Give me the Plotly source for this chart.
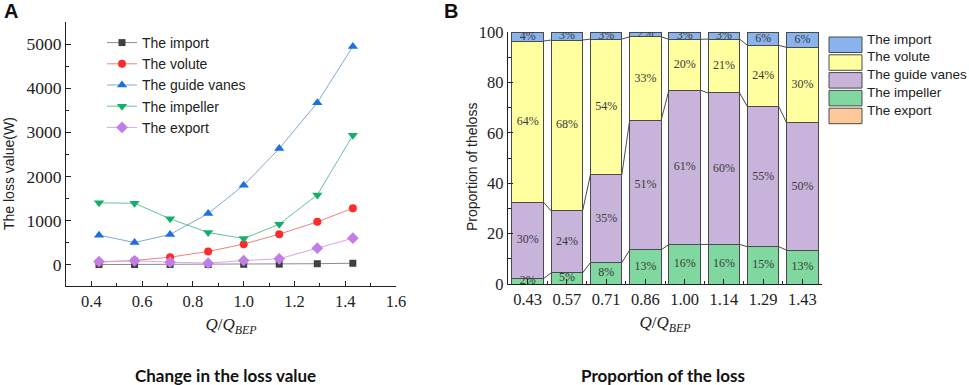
import plotly.graph_objects as go

W, H = 969, 385

# ---------------- data ----------------
q = [0.43, 0.57, 0.71, 0.86, 1.00, 1.14, 1.29, 1.43]
q_labels = ["0.43", "0.57", "0.71", "0.86", "1.00", "1.14", "1.29", "1.43"]

loss_import = [5, 6, 7, 8, 12, 15, 25, 35]
loss_volute = [60, 98, 173, 302, 468, 694, 973, 1282]
loss_guide = [671, 505, 686, 1161, 1802, 2632, 3673, 4947]
loss_impeller = [1403, 1395, 1041, 731, 596, 920, 1584, 2934]
loss_export = [75, 90, 60, 38, 98, 136, 377, 603]

share_export = [0, 0, 0, 0, 0, 0, 0, 0]
share_impeller = [2.1, 4.4, 8.5, 13.5, 15.7, 15.7, 14.8, 13.4]
share_guide = [30.4, 24.6, 34.9, 51.4, 61.2, 60.1, 55.6, 50.5]
share_volute = [63.9, 67.8, 53.8, 33.2, 20.2, 21.4, 24.3, 30.0]
share_import = [3.6, 3.2, 2.8, 1.9, 2.9, 2.8, 5.3, 6.1]

label_impeller = ["2%", "5%", "8%", "13%", "16%", "16%", "15%", "13%"]
label_guide = ["30%", "24%", "35%", "51%", "61%", "60%", "55%", "50%"]
label_volute = ["64%", "68%", "54%", "33%", "20%", "21%", "24%", "30%"]
label_import = ["4%", "3%", "3%", "2%", "3%", "3%", "6%", "6%"]

series_names = ["The import", "The volute", "The guide vanes", "The impeller", "The export"]

# ---------------- styles ----------------
SERIF = "Liberation Serif"
SANS = "Liberation Sans"
line_styles = [
    dict(line="#8c8c8c", marker="#404040", symbol="square", size=7),
    dict(line="#f08080", marker="#ff2a2a", symbol="circle", size=8),
    dict(line="#7fa9d8", marker="#1e6fe0", symbol="triangle-up", size=9),
    dict(line="#66c29c", marker="#14b06a", symbol="triangle-down", size=9),
    dict(line="#d4a8ea", marker="#c07ee6", symbol="diamond", size=9),
]
bar_colors = {
    "The import": "#8ab4ee",
    "The volute": "#ffffa0",
    "The guide vanes": "#c8b4da",
    "The impeller": "#80d8a0",
    "The export": "#ffc89a",
}
OUTLINE = "#4a4a4a"


def px(x):
    return x / W


def py(y):
    return 1 - y / H


fig = go.Figure()

# ---------------- panel A ----------------
loss_series = [loss_import, loss_volute, loss_guide, loss_impeller, loss_export]
for i, (name, vals, st) in enumerate(zip(series_names, loss_series, line_styles)):
    fig.add_trace(go.Scatter(
        x=q, y=vals, name=name, mode="lines+markers",
        line=dict(color=st["line"], width=1),
        marker=dict(color=st["marker"], symbol=st["symbol"], size=st["size"]),
        xaxis="x", yaxis="y", legendgroup=f"g{i}", legend="legend",
    ))

# ---------------- panel B ----------------
idx = list(range(len(q)))
stack = [
    ("The export", share_export),
    ("The impeller", share_impeller),
    ("The guide vanes", share_guide),
    ("The volute", share_volute),
    ("The import", share_import),
]
for name, vals in stack:
    fig.add_trace(go.Bar(
        x=idx, y=vals, name=name, width=0.8,
        marker=dict(color=bar_colors[name], line=dict(color=OUTLINE, width=1)),
        xaxis="x2", yaxis="y2", showlegend=False, hoverinfo="skip",
    ))

# connecting lines between bars at stack boundaries
base = [0.0] * len(q)
tops = []
for name, vals in stack[1:-1]:
    base = [b + v for b, v in zip(base, vals)]
    tops.append(list(base))
cx, cy = [], []
for t in tops:
    for i in range(len(q) - 1):
        cx += [idx[i] + 0.4, idx[i + 1] - 0.4, None]
        cy += [t[i], t[i + 1], None]
fig.add_trace(go.Scatter(x=cx, y=cy, mode="lines", line=dict(color=OUTLINE, width=1),
                         xaxis="x2", yaxis="y2", showlegend=False, hoverinfo="skip"))

# percentage labels at segment centres
labels_by_series = {
    "The impeller": label_impeller,
    "The guide vanes": label_guide,
    "The volute": label_volute,
    "The import": label_import,
}
base = [0.0] * len(q)
for name, vals in stack:
    mids = [b + v / 2 for b, v in zip(base, vals)]
    base = [b + v for b, v in zip(base, vals)]
    if name in labels_by_series:
        fig.add_trace(go.Scatter(
            x=idx, y=mids, mode="text", text=labels_by_series[name],
            textfont=dict(family=SERIF, size=12, color="#3a3a3a"),
            xaxis="x2", yaxis="y2", showlegend=False, hoverinfo="skip",
        ))

# ---------------- axes ----------------
axis_common = dict(
    showgrid=False, zeroline=False, showline=True, linecolor="#222", linewidth=1.2,
    ticks="inside", tickcolor="#222", ticklen=5, tickwidth=1,
    mirror=False, automargin=False,
)
xtitle = dict(text="<i>Q</i>/<i>Q</i><sub><i>BEP</i></sub>",
              font=dict(family=SERIF, size=17, color="#222"), standoff=8)

fig.update_layout(
    width=W, height=H,
    margin=dict(l=0, r=0, t=0, b=0, pad=0, autoexpand=False),
    paper_bgcolor="white", plot_bgcolor="white",
    barmode="stack",
    xaxis=dict(
        domain=[px(66), px(396)], range=[0.3, 1.6], dtick=0.2, tick0=0.4,
        tickformat=".1f", anchor="y",
        minor=dict(dtick=0.1, tick0=0.3, ticks="inside", ticklen=3, tickcolor="#222"),
        tickfont=dict(family=SERIF, size=16.5, color="#222"),
        title=xtitle, **axis_common,
    ),
    yaxis=dict(
        domain=[py(286), py(22)], range=[-480, 5500], dtick=1000, tick0=0,
        anchor="x",
        minor=dict(dtick=500, tick0=0, ticks="inside", ticklen=3, tickcolor="#222"),
        tickfont=dict(family=SERIF, size=17.5, color="#222"),
        **axis_common,
    ),
    xaxis2=dict(
        domain=[px(508), px(822)], range=[-0.5, 7.5], anchor="y2",
        tickmode="array", tickvals=idx, ticktext=q_labels,
        minor=dict(tickmode="array", tickvals=[i + 0.5 for i in idx[:-1]],
                   ticks="inside", ticklen=3, tickcolor="#222"),
        tickfont=dict(family=SERIF, size=16.5, color="#222"),
        title=xtitle, **axis_common,
    ),
    yaxis2=dict(
        domain=[py(284), py(32)], range=[0, 100], dtick=20, anchor="x2",
        minor=dict(dtick=10, ticks="inside", ticklen=3, tickcolor="#222"),
        tickfont=dict(family=SERIF, size=16.5, color="#222"),
        **axis_common,
    ),
    legend=dict(
        x=px(102), y=py(27), xanchor="left", yanchor="top",
        bgcolor="rgba(0,0,0,0)", font=dict(family=SANS, size=14, color="#222"),
        tracegroupgap=0, itemwidth=30,
    ),
)

annotations = [
    dict(text="<b>A</b>", x=px(2), y=py(11), yanchor="middle",
         font=dict(family=SANS, size=20, color="#111")),
    dict(text="<b>B</b>", x=px(442), y=py(11), yanchor="middle",
         font=dict(family=SANS, size=20, color="#111")),
    dict(text="The loss value(W)", x=px(9), y=py(174), textangle=-90,
         xanchor="center", yanchor="middle",
         font=dict(family=SANS, size=14, color="#222")),
    dict(text="Proportion of theloss", x=px(472), y=py(167), textangle=-90,
         xanchor="center", yanchor="middle",
         font=dict(family=SANS, size=14, color="#222")),
    dict(text="<b>Change in the loss value</b>", x=px(225), y=py(375),
         xanchor="center", yanchor="middle",
         font=dict(family="Lato", size=17, color="#111")),
    dict(text="<b>Proportion of the loss</b>", x=px(663), y=py(375),
         xanchor="center", yanchor="middle",
         font=dict(family="Lato", size=17, color="#111")),
]

# manual legend for panel B (large colour boxes)
shapes = []
for k, name in enumerate(series_names):
    top = 37 + k * 17.8
    shapes.append(dict(type="rect", xref="paper", yref="paper",
                       x0=px(829), x1=px(862), y0=py(top + 15.5), y1=py(top),
                       fillcolor=bar_colors[name], line=dict(color=OUTLINE, width=1)))
    annotations.append(dict(text=name, x=px(865), y=py(top + 2), xanchor="left",
                            yanchor="middle",
                            font=dict(family=SANS, size=13.5, color="#222")))

for a in annotations:
    a.setdefault("xref", "paper")
    a.setdefault("yref", "paper")
    a.setdefault("showarrow", False)
    a.setdefault("xanchor", "left")

fig.update_layout(annotations=annotations, shapes=shapes)

fig.write_html(
    "out.html",
    config={"displayModeBar": False},
    post_script="document.body.style.margin='0';document.body.style.overflow='hidden';",
)
